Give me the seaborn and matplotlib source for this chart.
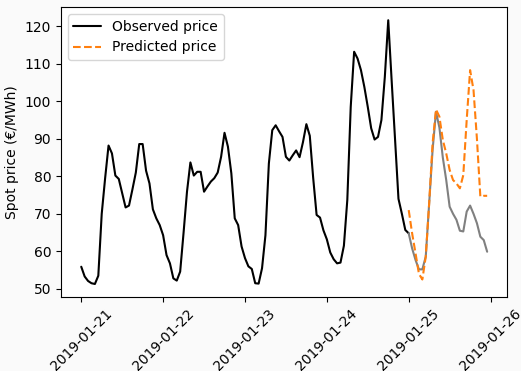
import numpy as np
import pandas as pd
import matplotlib
matplotlib.use("Agg")
import matplotlib.pyplot as plt
import matplotlib.dates as mdates
import seaborn as sns

# Hourly spot prices (EUR/MWh), 2019-01-21 00:00 to 2019-01-25 00:00
observed = [
    55.9, 53.3, 52.1, 51.5, 51.3, 53.5, 70.0, 79.5, 88.2, 86.1, 80.2, 79.3,
    75.5, 71.7, 72.2, 76.5, 81.0, 88.6, 88.6, 81.5, 78.1, 71.2, 68.8, 67.0,
    64.3, 59.0, 56.8, 52.8, 52.2, 54.6, 65.0, 75.9, 83.7, 80.2, 81.2, 81.2,
    75.9, 77.3, 78.6, 79.5, 81.0, 85.2, 91.6, 87.9, 80.8, 68.8, 67.0, 61.3,
    58.2, 56.0, 55.3, 51.5, 51.4, 55.5, 64.3, 83.4, 92.3, 93.6, 92.0, 90.5,
    85.2, 84.2, 85.6, 86.9, 85.1, 89.1, 93.9, 90.8, 79.5, 69.7, 69.0, 65.6,
    63.2, 59.7, 57.9, 56.8, 57.0, 61.5, 73.7, 98.5, 113.2, 111.4, 108.3, 103.8,
    98.5, 92.8, 89.8, 90.5, 95.0, 106.5, 121.6, 105.5, 89.8, 74.0, 70.0, 65.7,
    64.8,
]

# Forecast day 2019-01-25: realised and predicted prices
actual_test = [
    64.8, 60.8, 57.7, 55.2, 55.2, 58.6, 72.8, 87.0, 97.2, 93.0, 85.0, 79.0,
    71.9, 70.0, 68.4, 65.5, 65.3, 70.6, 72.2, 70.0, 67.5, 63.9, 63.0, 59.9,
]
predicted = [
    71.0, 64.8, 59.5, 54.0, 52.5, 58.6, 72.8, 88.8, 97.8, 95.9, 89.7, 86.1,
    81.7, 79.0, 78.1, 76.8, 80.3, 95.0, 108.3, 103.0, 90.0, 74.6, 74.8, 74.8,
]

obs_time = pd.date_range("2019-01-21 00:00", periods=len(observed), freq="h")
test_time = pd.date_range("2019-01-25 00:00", periods=len(actual_test), freq="h")

sns.set_style("ticks", {
    "axes.edgecolor": "black",
    "xtick.color": "black",
    "ytick.color": "black",
    "axes.labelcolor": "black",
    "text.color": "black",
})

fig = plt.figure(figsize=(5.21, 3.71), dpi=100, facecolor="#fafafa")
ax = fig.add_axes([0.117, 0.199, 0.857, 0.782])
ax.set_facecolor("white")

sns.lineplot(x=obs_time, y=observed, color="black", linewidth=1.5,
             label="Observed price", ax=ax)
sns.lineplot(x=test_time, y=actual_test, color="gray", linewidth=1.5,
             label="_nolegend_", ax=ax)
sns.lineplot(x=test_time, y=predicted, color="#ff7f0e", linewidth=1.5,
             linestyle="--", label="Predicted price", ax=ax)

ax.xaxis.set_major_locator(mdates.DayLocator())
ax.xaxis.set_major_formatter(mdates.DateFormatter("%Y-%m-%d"))
ax.set_xlim(obs_time[0] - pd.Timedelta(hours=5.95),
            test_time[-1] + pd.Timedelta(hours=5.95))
ax.set_yticks([50, 60, 70, 80, 90, 100, 110, 120])
plt.setp(ax.get_xticklabels(), rotation=45)

ax.set_xlabel("")
ax.set_ylabel("Spot price (€/MWh)")
ax.legend(loc="upper left")

fig.savefig("out.png", dpi=100, facecolor=fig.get_facecolor())
